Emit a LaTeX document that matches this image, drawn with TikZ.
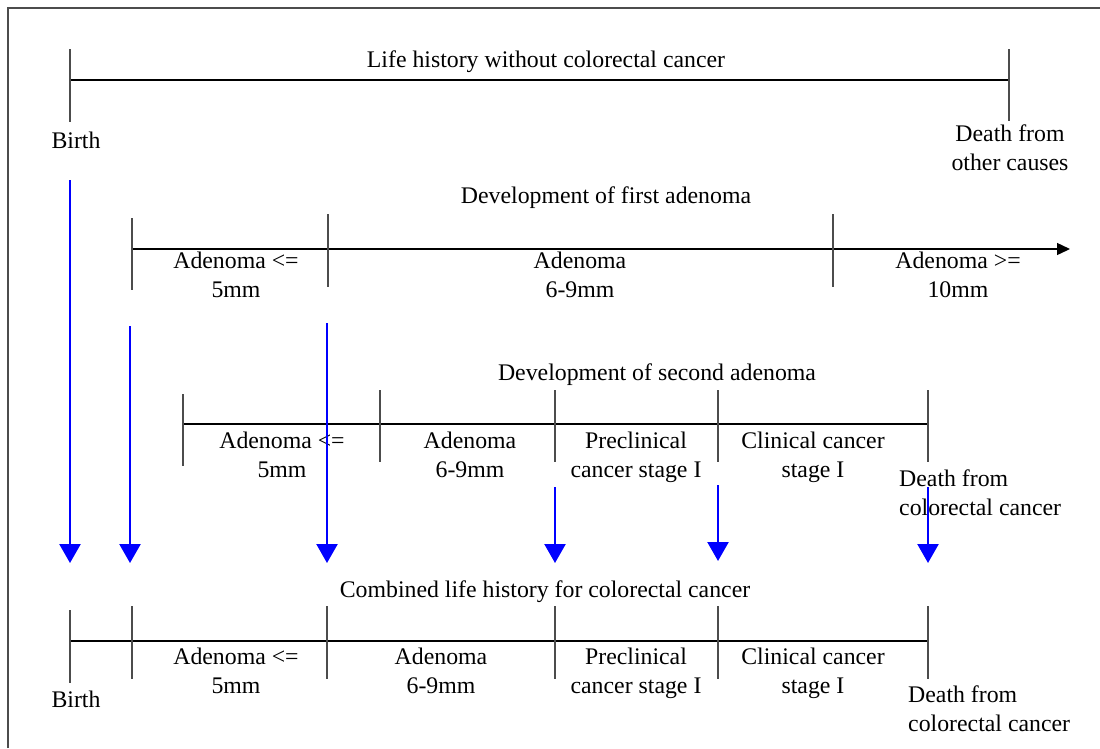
\documentclass[tikz,border=0pt]{standalone}
\usepackage{fontspec}
\setmainfont{Liberation Serif}
\usetikzlibrary{arrows.meta}
\begin{document}
\begin{tikzpicture}[x=1pt,y=-1pt,
  txt/.style={font=\fontsize{23.8}{29}\selectfont, inner sep=0pt},
  ttl/.style={txt, anchor=base},
  lbl/.style={txt, align=center, anchor=north},
  lbll/.style={txt, align=left, anchor=north west},
  tick/.style={draw=black!70, line width=1.6pt},
  axis/.style={draw=black, line width=1.4pt},
  down/.style={draw=blue, line width=2.4pt, -{Triangle[length=19pt,width=21pt]}},
  frame/.style={draw=black!70, line width=1.6pt}
]
\useasboundingbox (0,0) rectangle (1100,748);
\draw[frame] (8,748) -- (8,8) -- (1100,8);

% ---------- Timeline 1 ----------
\coordinate (a1) at (70,80);
\coordinate (b1) at (1009,80);
\draw[axis] (a1) -- (b1);
\draw[tick] (a1) ++(0,-31) -- ++(0,73);
\draw[tick] (b1) ++(0,-31) -- ++(0,72);
\node[ttl] (t1) at (546,67) {Life history without colorectal cancer};
\node[ttl] (birth1) at (76,148) {Birth};
\node[lbl] (death1) at (1010,124.5) {Death from\\other causes};

% ---------- Timeline 2 ----------
\coordinate (a2) at (132,249);
\coordinate (b2) at (1070,249);
\draw[axis,-{Triangle[length=13pt,width=12pt]}] (a2) -- (b2);
\draw[tick] (132,218) -- (132,290);
\draw[tick] (328,214) -- (328,287);
\draw[tick] (833,214) -- (833,287);
\node[ttl] (t2) at (606,203) {Development of first adenoma};
\node[lbl] (f1) at (236,251.5) {Adenoma <=\\5mm};
\node[lbl] (f2) at (580,251.5) {Adenoma\\6-9mm};
\node[lbl] (f3) at (958,251.5) {Adenoma >=\\10mm};

% ---------- Timeline 3 ----------
\coordinate (a3) at (183,424);
\coordinate (b3) at (928,424);
\draw[axis] (a3) -- (b3);
\draw[tick] (183,394) -- (183,466);
\draw[tick] (380,390) -- (380,462);
\draw[tick] (555,390) -- (555,462);
\draw[tick] (718,390) -- (718,462);
\draw[tick] (928,390) -- (928,462);
\node[ttl] (t3) at (657,380) {Development of second adenoma};
\node[lbl] (s1) at (282,431.5) {Adenoma <=\\5mm};
\node[lbl] (s2) at (470,431.5) {Adenoma\\6-9mm};
\node[lbl] (s3) at (636,431.5) {Preclinical\\cancer stage I};
\node[lbl] (s4) at (813,431.5) {Clinical cancer\\stage I};
\node[lbll] (death3) at (899,469.5) {Death from\\colorectal cancer};

% ---------- Arrows ----------
\coordinate (u1) at (70,180);  \coordinate (v1) at (70,563);
\coordinate (u2) at (130,326); \coordinate (v2) at (130,563);
\coordinate (u3) at (327,323); \coordinate (v3) at (327,563);
\coordinate (u4) at (555,487); \coordinate (v4) at (555,563);
\coordinate (u5) at (718,485); \coordinate (v5) at (718,561);
\coordinate (u6) at (928,487); \coordinate (v6) at (928,563);
\foreach \i in {1,...,6} { \draw[down] (u\i) -- (v\i); }

% ---------- Timeline 4 ----------
\coordinate (a4) at (70,641);
\coordinate (b4) at (928,641);
\draw[axis] (a4) -- (b4);
\draw[tick] (70,610) -- (70,683);
\draw[tick] (132,606) -- (132,679);
\draw[tick] (327,606) -- (327,679);
\draw[tick] (555,606) -- (555,679);
\draw[tick] (718,606) -- (718,679);
\draw[tick] (928,606) -- (928,679);
\node[ttl] (t4) at (545,597) {Combined life history for colorectal cancer};
\node[ttl] (birth4) at (76,707) {Birth};
\node[lbl] (c1) at (236,647.5) {Adenoma <=\\5mm};
\node[lbl] (c2) at (441,647.5) {Adenoma\\6-9mm};
\node[lbl] (c3) at (636,647.5) {Preclinical\\cancer stage I};
\node[lbl] (c4) at (813,647.5) {Clinical cancer\\stage I};
\node[lbll] (death4) at (908,685.5) {Death from\\colorectal cancer};
\end{tikzpicture}
\end{document}
